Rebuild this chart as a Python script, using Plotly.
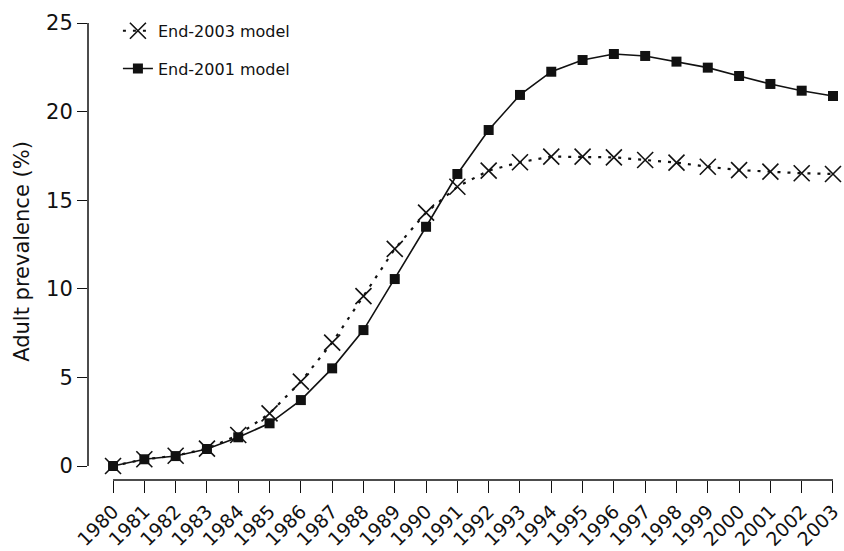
import plotly.graph_objects as go

# Model years and adult HIV prevalence estimates (%)
years = list(range(1980, 2004))
end2003_model = [0.0, 0.38, 0.58, 0.98, 1.75, 2.97, 4.76, 6.96, 9.59, 12.25, 14.3,
                 15.76, 16.67, 17.14, 17.46, 17.46, 17.42, 17.27, 17.12, 16.89,
                 16.7, 16.61, 16.52, 16.48]
end2001_model = [0.0, 0.38, 0.56, 0.96, 1.62, 2.41, 3.72, 5.51, 7.67, 10.55, 13.5,
                 16.48, 18.96, 20.94, 22.25, 22.91, 23.25, 23.14, 22.82, 22.48,
                 22.01, 21.56, 21.18, 20.88]
y_ticks = [0, 5, 10, 15, 20, 25]

FONT = "DejaVu Sans"
INK = "#111111"

fig = go.Figure()

fig.add_trace(go.Scatter(
    x=years, y=end2003_model, name="End-2003 model", mode="lines+markers",
    line=dict(color=INK, width=2.2, dash="3px,7px"),
    marker=dict(symbol="x-thin-open", size=16, color=INK,
                line=dict(color=INK, width=1.6)),
    legendgroup="a", cliponaxis=False,
))
fig.add_trace(go.Scatter(
    x=years, y=end2001_model, name="End-2001 model", mode="lines+markers",
    line=dict(color=INK, width=1.6),
    marker=dict(symbol="square", size=10, color=INK),
    legendgroup="b", cliponaxis=False,
))

# Detached axis lines: y from 0 to 25, x from 1980 to 2003
fig.add_shape(type="line", xref="paper", yref="y", x0=0, x1=0,
              y0=min(y_ticks), y1=max(y_ticks), line=dict(color=INK, width=1.5))
fig.add_shape(type="line", xref="x", yref="paper", x0=years[0], x1=years[-1],
              y0=0, y1=0, line=dict(color=INK, width=1.5))

fig.update_layout(
    template="none",
    width=844, height=551,
    margin=dict(l=88, r=8, t=23, b=71),
    paper_bgcolor="white", plot_bgcolor="white",
    font=dict(family=FONT, color=INK),
    showlegend=True,
    legend=dict(x=0.04, y=1.02, xanchor="left", yanchor="top",
                font=dict(size=16, family=FONT), bgcolor="rgba(0,0,0,0)",
                tracegroupgap=14, traceorder="grouped"),
    xaxis=dict(
        range=[1979.2, 2003.096], tickmode="array", tickvals=years,
        ticktext=[str(y) for y in years], tickangle=-45,
        ticks="outside", ticklen=12, tickwidth=1.2, tickcolor=INK,
        tickfont=dict(size=19, family=FONT),
        showgrid=False, zeroline=False, showline=False, automargin=False,
    ),
    yaxis=dict(
        range=[-0.79, 25], tickmode="array", tickvals=y_ticks,
        ticks="outside", ticklen=10, tickwidth=1.2, tickcolor=INK,
        tickfont=dict(size=21, family=FONT),
        title=dict(text="Adult prevalence (%)", font=dict(size=21, family=FONT),
                   standoff=10),
        showgrid=False, zeroline=False, showline=False, automargin=False,
    ),
)

fig.write_html("out.html")
